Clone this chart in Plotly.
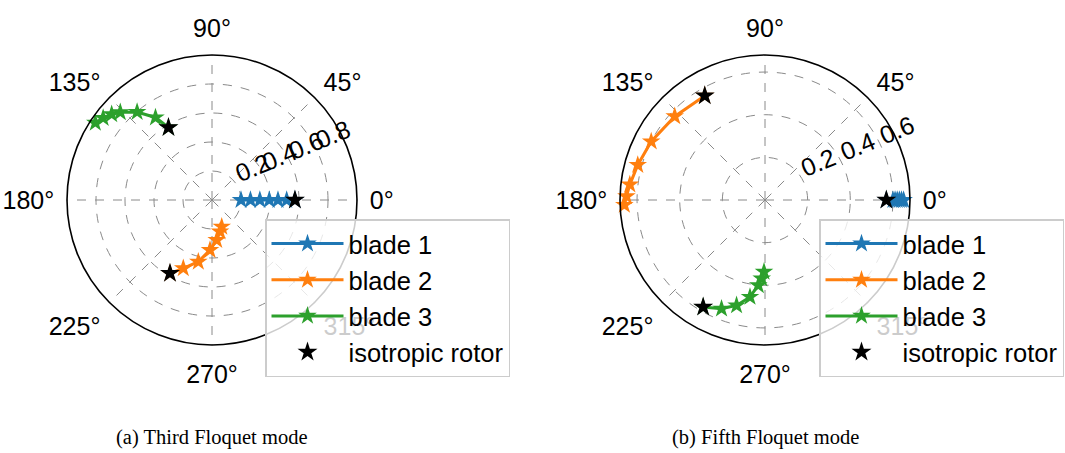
import plotly.graph_objects as go

# Third Floquet mode: (radius, angle in degrees) per blade;
# each blade ends at the isotropic-rotor value
m3_b1_r = [0.20, 0.265, 0.33, 0.395, 0.455, 0.515, 0.572]
m3_b1_t = [0, 0, 0, 0, 0, 0, 0]
m3_b2_r = [0.196, 0.225, 0.278, 0.345, 0.436, 0.511, 0.583]
m3_b2_t = [290.0, 284.2, 276.7, 267.7, 257.5, 247.2, 240.2]
m3_b3_r = [0.965, 0.94, 0.91, 0.875, 0.797, 0.69, 0.583]
m3_b3_t = [146.5, 143.0, 139.5, 136.3, 130.4, 124.4, 121.0]
m3_iso_r = [0.572, 0.583, 0.583]
m3_iso_t = [0, 240.2, 121.0]

# Fifth Floquet mode
m5_b1_r = [0.65, 0.64, 0.63, 0.62, 0.61, 0.60, 0.569]
m5_b1_t = [0, 0, 0, 0, 0, 0, 0]
m5_b2_r = [0.66, 0.65, 0.638, 0.619, 0.60, 0.577, 0.565]
m5_b2_t = [182.0, 178.5, 173.5, 164.6, 152.8, 137.2, 120.0]
m5_b3_r = [0.337, 0.369, 0.401, 0.46, 0.512, 0.549, 0.58]
m5_b3_t = [269.2, 267.6, 265.5, 261.2, 254.9, 248.2, 240.0]
m5_iso_r = [0.569, 0.565, 0.58]
m5_iso_t = [0, 120.0, 240.0]

blade_names = ["blade 1", "blade 2", "blade 3"]
blade_colors = ["#1f77b4", "#ff7f0e", "#2ca02c"]
iso_name = "isotropic rotor"

m3_rticks = [0.2, 0.4, 0.6, 0.8]
m5_rticks = [0.2, 0.4, 0.6]
m3_rmax = 1.0
m5_rmax = 0.68

captions = ["(a) Third Floquet mode", "(b) Fifth Floquet mode"]

W, H = 1065, 453
FONT = "Liberation Sans, Arial, sans-serif"
NBSP = "\u00a0"

fig = go.Figure()


def add_mode(blades, iso, subplot, legend):
    for (r, t), name, col in zip(blades, blade_names, blade_colors):
        fig.add_trace(go.Scatterpolar(
            r=r, theta=t, mode="lines+markers", name=name,
            line=dict(color=col, width=3),
            marker=dict(symbol="star", size=14, color=col),
            subplot=subplot, legend=legend,
        ))
    fig.add_trace(go.Scatterpolar(
        r=iso[0], theta=iso[1], mode="markers", name=iso_name,
        marker=dict(symbol="star", size=15, color="black"),
        subplot=subplot, legend=legend,
    ))


add_mode([(m3_b1_r, m3_b1_t), (m3_b2_r, m3_b2_t), (m3_b3_r, m3_b3_t)],
         (m3_iso_r, m3_iso_t), "polar", "legend")
add_mode([(m5_b1_r, m5_b1_t), (m5_b2_r, m5_b2_t), (m5_b3_r, m5_b3_t)],
         (m5_iso_r, m5_iso_t), "polar2", "legend2")


def polar_layout(cx, cy, rad, rmax, rticks):
    # radial labels sit just right of and above their ring
    labels = ["<br>" + NBSP * 6 + f"{v:.1f}" for v in rticks]
    return dict(
        domain=dict(x=[(cx - rad) / W, (cx + rad) / W],
                    y=[(H - cy - rad) / H, (H - cy + rad) / H]),
        bgcolor="white",
        radialaxis=dict(
            range=[0, rmax], tickvals=rticks, ticktext=labels,
            angle=22.5, side="counterclockwise", showline=False, ticks="",
            tickangle=0,
            tickfont=dict(family=FONT, size=25, color="black"),
            gridcolor="#8a8a8a", griddash="dash", gridwidth=1,
        ),
        angularaxis=dict(
            rotation=0, direction="counterclockwise", dtick=45, ticksuffix="°",
            showline=True, linecolor="black", linewidth=1.6,
            ticks="outside", ticklen=7, tickcolor="rgba(0,0,0,0)",
            tickfont=dict(family=FONT, size=25, color="black"),
            gridcolor="#8a8a8a", griddash="dash", gridwidth=1,
        ),
    )


legend_style = dict(
    font=dict(family=FONT, size=25.5, color="black"),
    bgcolor="rgba(255,255,255,0.8)", bordercolor="#cccccc", borderwidth=1.5,
    xanchor="left", yanchor="top", itemwidth=72, tracegroupgap=0,
)

cap_font = dict(family="Liberation Serif, serif", size=20.5, color="black")

fig.update_layout(
    width=W, height=H, margin=dict(l=0, r=0, t=0, b=0),
    paper_bgcolor="white", plot_bgcolor="white",
    polar=polar_layout(212, 200, 145, m3_rmax, m3_rticks),
    polar2=polar_layout(765, 200, 145, m5_rmax, m5_rticks),
    legend=dict(x=265 / W, y=1 - 219 / H, **legend_style),
    legend2=dict(x=819 / W, y=1 - 219 / H, **legend_style),
    annotations=[
        dict(text=captions[0], x=212 / W, y=1 - 437 / H, xref="paper", yref="paper",
             xanchor="center", yanchor="middle", showarrow=False, font=cap_font),
        dict(text=captions[1], x=765 / W, y=1 - 437 / H, xref="paper", yref="paper",
             xanchor="center", yanchor="middle", showarrow=False, font=cap_font),
    ],
)

fig.write_html("out.html")
